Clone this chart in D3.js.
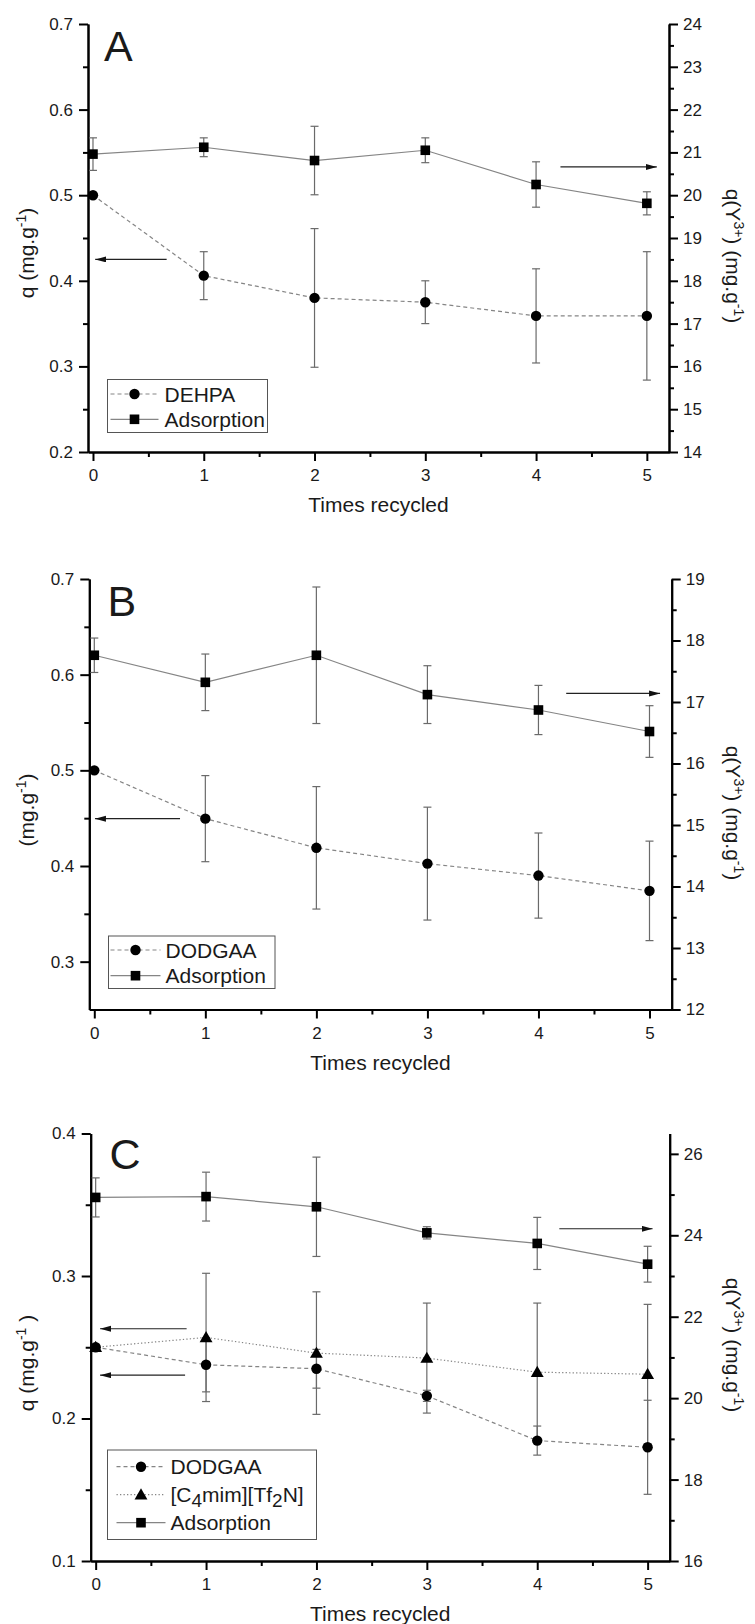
<!DOCTYPE html>
<html><head><meta charset="utf-8">
<script src="https://cdn.jsdelivr.net/npm/d3@7"></script>
<style>
body{margin:0;background:#fff}
svg{display:block}
text{font-family:"Liberation Sans",Arial,Helvetica,sans-serif;fill:#1a1a1a}
</style>
</head><body>
<svg id="c" width="755" height="1624"></svg>
<script>
// ---------- data ----------
const cycles = [0, 1, 2, 3, 4, 5];

// Panel A
const aDehpa    = [0.500, 0.406, 0.380, 0.375, 0.359, 0.359];
const aDehpaErr = [0.002, 0.028, 0.081, 0.025, 0.055, 0.075];
const aAds      = [20.96, 21.12, 20.81, 21.05, 20.25, 19.81];
const aAdsErr   = [0.38, 0.22, 0.80, 0.29, 0.53, 0.27];

// Panel B
const bDodgaa    = [0.500, 0.4495, 0.419, 0.4025, 0.390, 0.374];
const bDodgaaErr = [0.002, 0.045, 0.064, 0.059, 0.0445, 0.052];
const bAds       = [17.76, 17.32, 17.76, 17.12, 16.87, 16.52];
const bAdsErr    = [0.28, 0.46, 1.11, 0.47, 0.40, 0.42];

// Panel C
const cDodgaa    = [0.250, 0.2377, 0.2349, 0.2159, 0.1845, 0.1798];
const cDodgaaErr = [0.002, 0.019, 0.0136, 0.0039, 0.0102, 0.033];
const cIl        = [0.250, 0.2569, 0.2459, 0.2424, 0.2325, 0.2311];
const cIlErr     = [0.002, 0.045, 0.043, 0.0386, 0.0485, 0.049];
const cAds       = [24.93, 24.95, 24.70, 24.06, 23.80, 23.29];
const cAdsErr    = [0.48, 0.60, 1.22, 0.15, 0.64, 0.44];

// ticks
const xMajor = [0, 1, 2, 3, 4, 5];
const xMinor = [0.5, 1.5, 2.5, 3.5, 4.5];
const aLeftMajor  = [0.2, 0.3, 0.4, 0.5, 0.6, 0.7];
const aLeftMinor  = [0.25, 0.35, 0.45, 0.55, 0.65];
const aRightMajor = [14, 15, 16, 17, 18, 19, 20, 21, 22, 23, 24];
const aRightMinor = [14.5, 15.5, 16.5, 17.5, 18.5, 19.5, 20.5, 21.5, 22.5, 23.5];
const bLeftMajor  = [0.3, 0.4, 0.5, 0.6, 0.7];
const bLeftMinor  = [0.35, 0.45, 0.55, 0.65];
const bRightMajor = [12, 13, 14, 15, 16, 17, 18, 19];
const bRightMinor = [12.5, 13.5, 14.5, 15.5, 16.5, 17.5, 18.5];
const cLeftMajor  = [0.1, 0.2, 0.3, 0.4];
const cLeftMinor  = [0.15, 0.25, 0.35];
const cRightMajor = [16, 18, 20, 22, 24, 26];
const cRightMinor = [17, 19, 21, 23, 25];

// ---------- drawing ----------
const svg = d3.select("#c");
const defs = svg.append("defs");
defs.append("marker").attr("id", "ah")
  .attr("markerUnits", "userSpaceOnUse")
  .attr("markerWidth", 12).attr("markerHeight", 8)
  .attr("refX", 11).attr("refY", 3).attr("orient", "auto")
  .append("path").attr("d", "M0,0 L11,3 L0,6 Z").attr("fill", "#111");

const LINE = "#858585", ERR = "#6a6a6a";

function styleAxis(sel) {
  sel.selectAll("path.domain").attr("stroke", "#000").attr("stroke-width", 2);
  sel.selectAll(".tick line").attr("stroke", "#000").attr("stroke-width", 2);
  sel.selectAll(".tick text").attr("font-size", 17).attr("fill", "#1a1a1a")
     .attr("font-family", '"Liberation Sans",Arial,sans-serif');
}

function sup(t, parts) {
  let shift = 0;
  parts.forEach(([s, k]) => {
    const ts = t.append("tspan").text(s);
    let target = k === "sup" ? -8 : k === "sub" ? 5 : 0;
    ts.attr("dy", target - shift);
    shift = target;
    if (k !== "n") ts.attr("font-size", k === "sup" ? 14 : 19);
  });
}

function panel(cfg) {
  const g = svg.append("g");
  const x = d3.scaleLinear().domain([-0.045, 5.2]).range([cfg.left, cfg.right]);
  const yL = d3.scaleLinear().domain(cfg.leftDomain).range([cfg.bottom, cfg.top]);
  const yR = d3.scaleLinear().domain(cfg.rightDomain).range([cfg.bottom, cfg.top]);

  const addAxis = (ax, tr) => { const a = g.append("g").attr("transform", tr).call(ax); styleAxis(a); return a; };
  addAxis(d3.axisBottom(x).tickValues(xMinor).tickSize(5).tickSizeOuter(0).tickFormat(""), `translate(0,${cfg.bottom})`);
  addAxis(d3.axisBottom(x).tickValues(xMajor).tickSize(9).tickSizeOuter(0).tickPadding(8).tickFormat(d3.format("d")), `translate(0,${cfg.bottom})`);
  addAxis(d3.axisLeft(yL).tickValues(cfg.leftMinor).tickSize(5).tickSizeOuter(0).tickFormat(""), `translate(${cfg.left},0)`);
  addAxis(d3.axisLeft(yL).tickValues(cfg.leftMajor).tickSize(9).tickSizeOuter(0).tickPadding(6).tickFormat(d3.format(".1f")), `translate(${cfg.left},0)`);
  addAxis(d3.axisRight(yR).tickValues(cfg.rightMinor).tickSize(5).tickSizeOuter(0).tickFormat(""), `translate(${cfg.right},0)`);
  addAxis(d3.axisRight(yR).tickValues(cfg.rightMajor).tickSize(9).tickSizeOuter(0).tickPadding(5).tickFormat(d3.format("d")), `translate(${cfg.right},0)`);

  g.append("text").attr("x", (cfg.left + cfg.right) / 2).attr("y", cfg.bottom + 60)
    .attr("text-anchor", "middle").attr("font-size", 21).text("Times recycled");

  const lt = g.append("text").attr("text-anchor", "middle").attr("font-size", 21)
    .attr("transform", `translate(34,${cfg.leftTitleY}) rotate(-90)`);
  sup(lt, cfg.leftTitle);
  const rt = g.append("text").attr("text-anchor", "middle").attr("font-size", 21)
    .attr("transform", `translate(726,${cfg.rightTitleY}) rotate(90)`);
  sup(rt, [["q(Y", "n"], ["3+", "sup"], [")", "n"], [" (mg.g", "n"], ["-1", "sup"], [")", "n"]]);

  g.append("text").attr("x", cfg.letterX).attr("y", cfg.letterY).attr("font-size", 43).text(cfg.letter);

  cfg.series.forEach(s => {
    const y = s.axis === "R" ? yR : yL;
    const pts = cycles.map((c, i) => ({ c, v: s.values[i], e: s.err[i] }));
    const eb = g.append("g").attr("stroke", ERR).attr("stroke-width", 1.2);
    pts.forEach(p => {
      if (p.e <= 0.0025 && s.axis === "L") return;
      const px = x(p.c), y1 = y(p.v + p.e), y2 = y(p.v - p.e);
      eb.append("line").attr("x1", px).attr("x2", px).attr("y1", y1).attr("y2", y2);
      eb.append("line").attr("x1", px - 4).attr("x2", px + 4).attr("y1", y1).attr("y2", y1);
      eb.append("line").attr("x1", px - 4).attr("x2", px + 4).attr("y1", y2).attr("y2", y2);
    });
    s._pts = pts; s._y = y;
  });
  cfg.series.forEach(s => {
    g.append("path").datum(s._pts)
      .attr("d", d3.line().x(d => x(d.c)).y(d => s._y(d.v)))
      .attr("fill", "none").attr("stroke", LINE).attr("stroke-width", 1.2)
      .attr("stroke-dasharray", s.dash || null);
  });
  const drawMarker = (sel, kind, cx, cy) => {
    if (kind === "circle") sel.append("circle").attr("cx", cx).attr("cy", cy).attr("r", 5.2).attr("fill", "#000");
    else if (kind === "square") sel.append("rect").attr("x", cx - 4.8).attr("y", cy - 4.8).attr("width", 9.6).attr("height", 9.6).attr("fill", "#000");
    else sel.append("path").attr("d", d3.symbol().type(d3.symbolTriangle).size(72)()).attr("transform", `translate(${cx},${cy + 1})`).attr("fill", "#000");
  };
  cfg.drawOrder.forEach(idx => {
    const s = cfg.series[idx];
    s._pts.forEach(p => drawMarker(g, s.marker, x(p.c), s._y(p.v)));
  });

  cfg.arrows.forEach(a => {
    const y = a.axis === "R" ? yR : yL;
    g.append("line").attr("x1", x(a.from)).attr("x2", x(a.to)).attr("y1", y(a.v)).attr("y2", y(a.v))
      .attr("stroke", "#222").attr("stroke-width", 1.2).attr("marker-end", "url(#ah)");
  });

  const L = cfg.legend;
  const lg = g.append("g");
  lg.append("rect").attr("x", L.x).attr("y", L.y).attr("width", L.w).attr("height", L.h)
    .attr("fill", "#fff").attr("stroke", "#555").attr("stroke-width", 1);
  L.rows.forEach((r, i) => {
    const s = cfg.series[r.idx];
    const cy = L.y + L.first + i * L.step;
    lg.append("line").attr("x1", L.x + L.lx0).attr("x2", L.x + L.lx1).attr("y1", cy).attr("y2", cy)
      .attr("stroke", LINE).attr("stroke-width", 1.2).attr("stroke-dasharray", s.dash || null);
    drawMarker(lg, s.marker, L.x + (L.lx0 + L.lx1) / 2, cy);
    const t = lg.append("text").attr("x", L.x + L.tx).attr("y", cy + 7.5).attr("font-size", 21);
    sup(t, r.label);
  });
}

panel({
  letter: "A", letterX: 104, letterY: 61,
  left: 88, right: 669, top: 24, bottom: 452,
  leftDomain: [0.2, 0.7], rightDomain: [14, 24],
  leftMajor: aLeftMajor, leftMinor: aLeftMinor, rightMajor: aRightMajor, rightMinor: aRightMinor,
  leftTitleY: 253, rightTitleY: 256,
  leftTitle: [["q (mg.g", "n"], ["-1", "sup"], [")", "n"]],
  series: [
    { values: aDehpa, err: aDehpaErr, axis: "L", marker: "circle", dash: "4,3" },
    { values: aAds, err: aAdsErr, axis: "R", marker: "square" }
  ],
  drawOrder: [0, 1],
  arrows: [
    { axis: "L", from: 0.665, to: 0.02, v: 0.425 },
    { axis: "R", from: 4.22, to: 5.09, v: 20.66 }
  ],
  legend: { x: 107.5, y: 379.5, w: 160, h: 53, first: 14.5, step: 25.3, lx0: 3, lx1: 51, tx: 57,
    rows: [{ idx: 0, label: [["DEHPA", "n"]] }, { idx: 1, label: [["Adsorption", "n"]] }] }
});

panel({
  letter: "B", letterX: 107.5, letterY: 616,
  left: 89.3, right: 671.7, top: 579, bottom: 1009.5,
  leftDomain: [0.25, 0.7], rightDomain: [12, 19],
  leftMajor: bLeftMajor, leftMinor: bLeftMinor, rightMajor: bRightMajor, rightMinor: bRightMinor,
  leftTitleY: 810, rightTitleY: 813,
  leftTitle: [["(mg.g", "n"], ["-1", "sup"], [")", "n"]],
  series: [
    { values: bDodgaa, err: bDodgaaErr, axis: "L", marker: "circle", dash: "4,3" },
    { values: bAds, err: bAdsErr, axis: "R", marker: "square" }
  ],
  drawOrder: [0, 1],
  arrows: [
    { axis: "L", from: 0.772, to: 0.006, v: 0.4495 },
    { axis: "R", from: 4.25, to: 5.095, v: 17.14 }
  ],
  legend: { x: 108.5, y: 936, w: 166.5, h: 52.5, first: 14, step: 25.7, lx0: 2, lx1: 52, tx: 57,
    rows: [{ idx: 0, label: [["DODGAA", "n"]] }, { idx: 1, label: [["Adsorption", "n"]] }] }
});

panel({
  letter: "C", letterX: 109.5, letterY: 1168.5,
  left: 90.7, right: 669.7, top: 1133.5, bottom: 1561,
  leftDomain: [0.1, 0.4], rightDomain: [16, 26.5],
  leftMajor: cLeftMajor, leftMinor: cLeftMinor, rightMajor: cRightMajor, rightMinor: cRightMinor,
  leftTitleY: 1363, rightTitleY: 1345,
  leftTitle: [["q (mg.g", "n"], ["-1", "sup"], [" )", "n"]],
  series: [
    { values: cDodgaa, err: cDodgaaErr, axis: "L", marker: "circle", dash: "4,3" },
    { values: cIl, err: cIlErr, axis: "L", marker: "triangle", dash: "1.3,2.2" },
    { values: cAds, err: cAdsErr, axis: "R", marker: "square" }
  ],
  drawOrder: [1, 0, 2],
  arrows: [
    { axis: "L", from: 0.824, to: 0.04, v: 0.263 },
    { axis: "L", from: 0.81, to: 0.04, v: 0.2304 },
    { axis: "R", from: 4.2, to: 5.045, v: 24.16 }
  ],
  legend: { x: 107.5, y: 1450, w: 209, h: 89.5, first: 16.7, step: 28, lx0: 9, lx1: 58, tx: 63,
    rows: [{ idx: 0, label: [["DODGAA", "n"]] },
           { idx: 1, label: [["[C", "n"], ["4", "sub"], ["mim][Tf", "n"], ["2", "sub"], ["N]", "n"]] },
           { idx: 2, label: [["Adsorption", "n"]] }] }
});
</script>
</body></html>
